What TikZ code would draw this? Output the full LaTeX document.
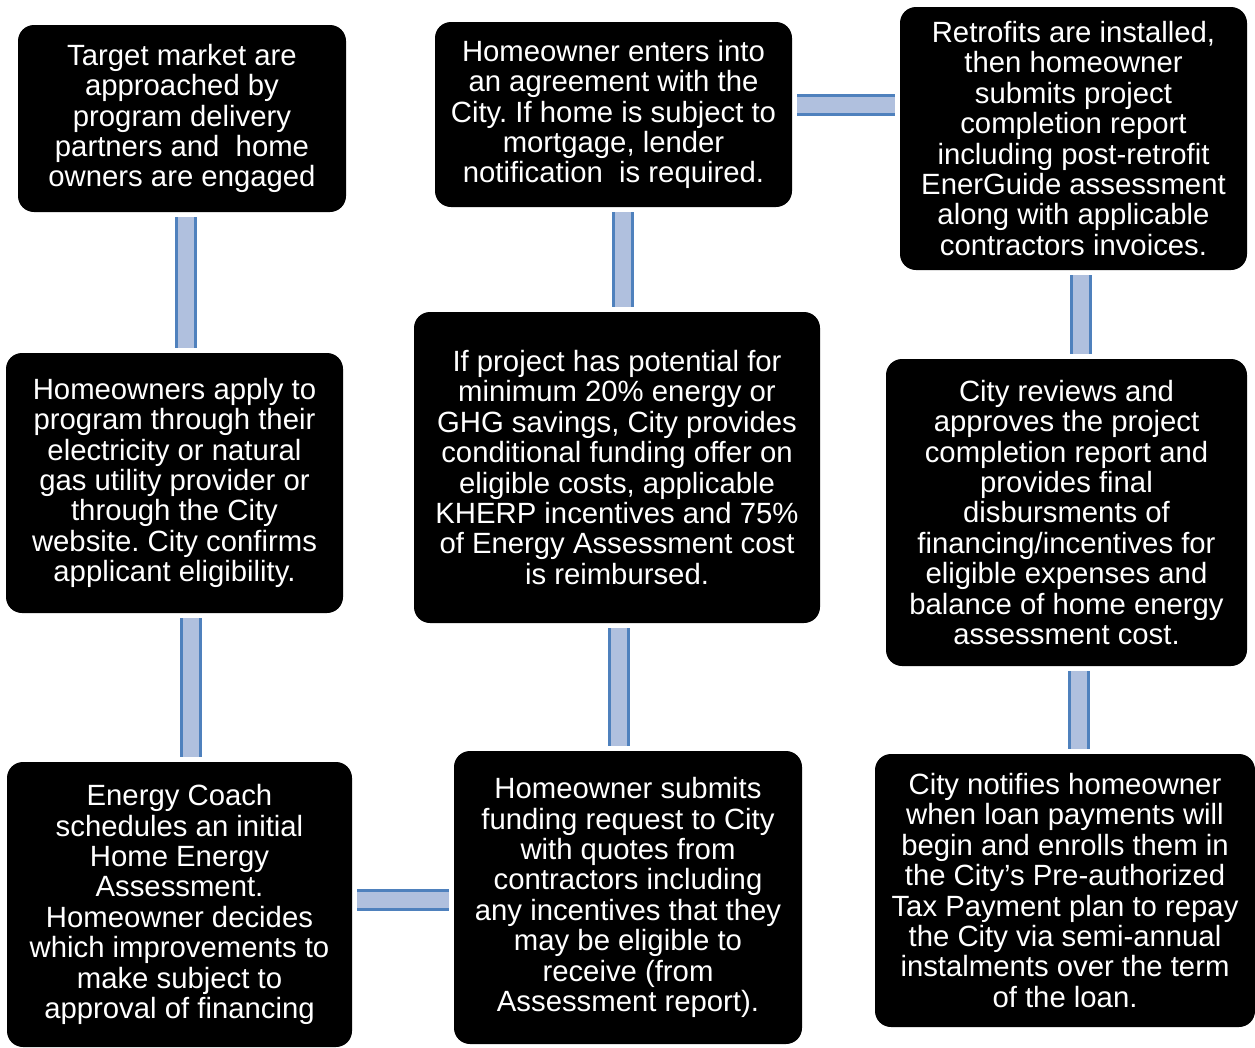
\documentclass[tikz,border=0pt]{standalone}
\usepackage{fontspec}
\setmainfont{Liberation Sans}
\frenchspacing
\definecolor{connblue}{RGB}{79,129,189}
\definecolor{connfill}{RGB}{176,192,222}
\begin{document}
\begin{tikzpicture}
  [x=1pt,y=-1pt,every node/.style={rectangle,rounded corners=16pt,fill=black,text=white,align=center,inner sep=0pt,font=\fontsize{29.3}{30.4}\selectfont},
   conn/.style={draw=connblue,line width=3pt,double=connfill,double distance=16pt,shorten <=5pt,shorten >=5pt}]
\useasboundingbox (0,0) rectangle (1255,1047);

\node (n1)[minimum width=328pt,minimum height=187pt] at (182,118.5) {Target market are\\approached by\\program delivery\\partners and~ home\\owners are engaged};
  \node (n2)[minimum width=357pt,minimum height=185pt] at (613.5,114.5) {Homeowner enters into\\an agreement with the\\City. If home is subject to\\mortgage, lender\\notification~ is required.};
  \node (n3)[minimum width=347pt,minimum height=263pt] at (1073.5,138.5) {Retrofits are installed,\\then homeowner\\submits project\\completion report\\including post-retrofit\\EnerGuide assessment\\along with applicable\\contractors invoices.};
  \node (n4)[minimum width=337pt,minimum height=260pt] at (174.5,483) {Homeowners apply to\\program through their\\electricity or natural\\gas utility provider or\\through the City\\website. City confirms\\applicant eligibility.};
  \node (n5)[minimum width=406pt,minimum height=311pt] at (617,467.5) {If project has potential for\\minimum 20\% energy or\\GHG savings, City provides\\conditional funding offer on\\eligible costs, applicable\\KHERP incentives and 75\%\\of Energy Assessment cost\\is reimbursed.};
  \node (n6)[minimum width=361pt,minimum height=307pt] at (1066.5,512.5) {City reviews and\\approves the project\\completion report and\\provides final\\disbursments of\\financing/incentives for\\eligible expenses and\\balance of home energy\\assessment cost.};
  \node (n7)[minimum width=345pt,minimum height=285pt] at (179.5,904.5) {Energy Coach\\schedules an initial\\Home Energy\\Assessment.\\Homeowner decides\\which improvements to\\make subject to\\approval of financing};
  \node (n8)[minimum width=348pt,minimum height=293pt] at (628,897.5) {Homeowner submits\\funding request to City\\with quotes from\\contractors including\\any incentives that they\\may be eligible to\\receive (from\\Assessment report).};
  \node (n9)[minimum width=380pt,minimum height=273pt] at (1065,890.5) {City notifies homeowner\\when loan payments will\\begin and enrolls them in\\the City’s Pre-authorized\\Tax Payment plan to repay\\the City via semi-annual\\instalments over the term\\of the loan.};

 \draw [conn] ([xshift=4pt]n1.south) -- ([xshift=11.5pt]n4.north);
 \draw [conn] ([xshift=16.5pt]n4.south) -- ([xshift=11.5pt]n7.north);
 \draw [conn] ([yshift=4.5pt]n7.east) -- ([yshift=-2.5pt]n8.west);
 \draw [conn] ([xshift=-9pt]n8.north) -- ([xshift=2pt]n5.south);
 \draw [conn] ([xshift=6pt]n5.north) -- ([xshift=9.5pt]n2.south);
 \draw [conn] ([yshift=9.5pt]n2.east) -- ([yshift=33.5pt]n3.west);
 \draw [conn] ([xshift=7.5pt]n3.south) -- ([xshift=14.5pt]n6.north);
 \draw [conn] ([xshift=12.5pt]n6.south) -- ([xshift=14pt]n9.north);
\end{tikzpicture}
\end{document}
